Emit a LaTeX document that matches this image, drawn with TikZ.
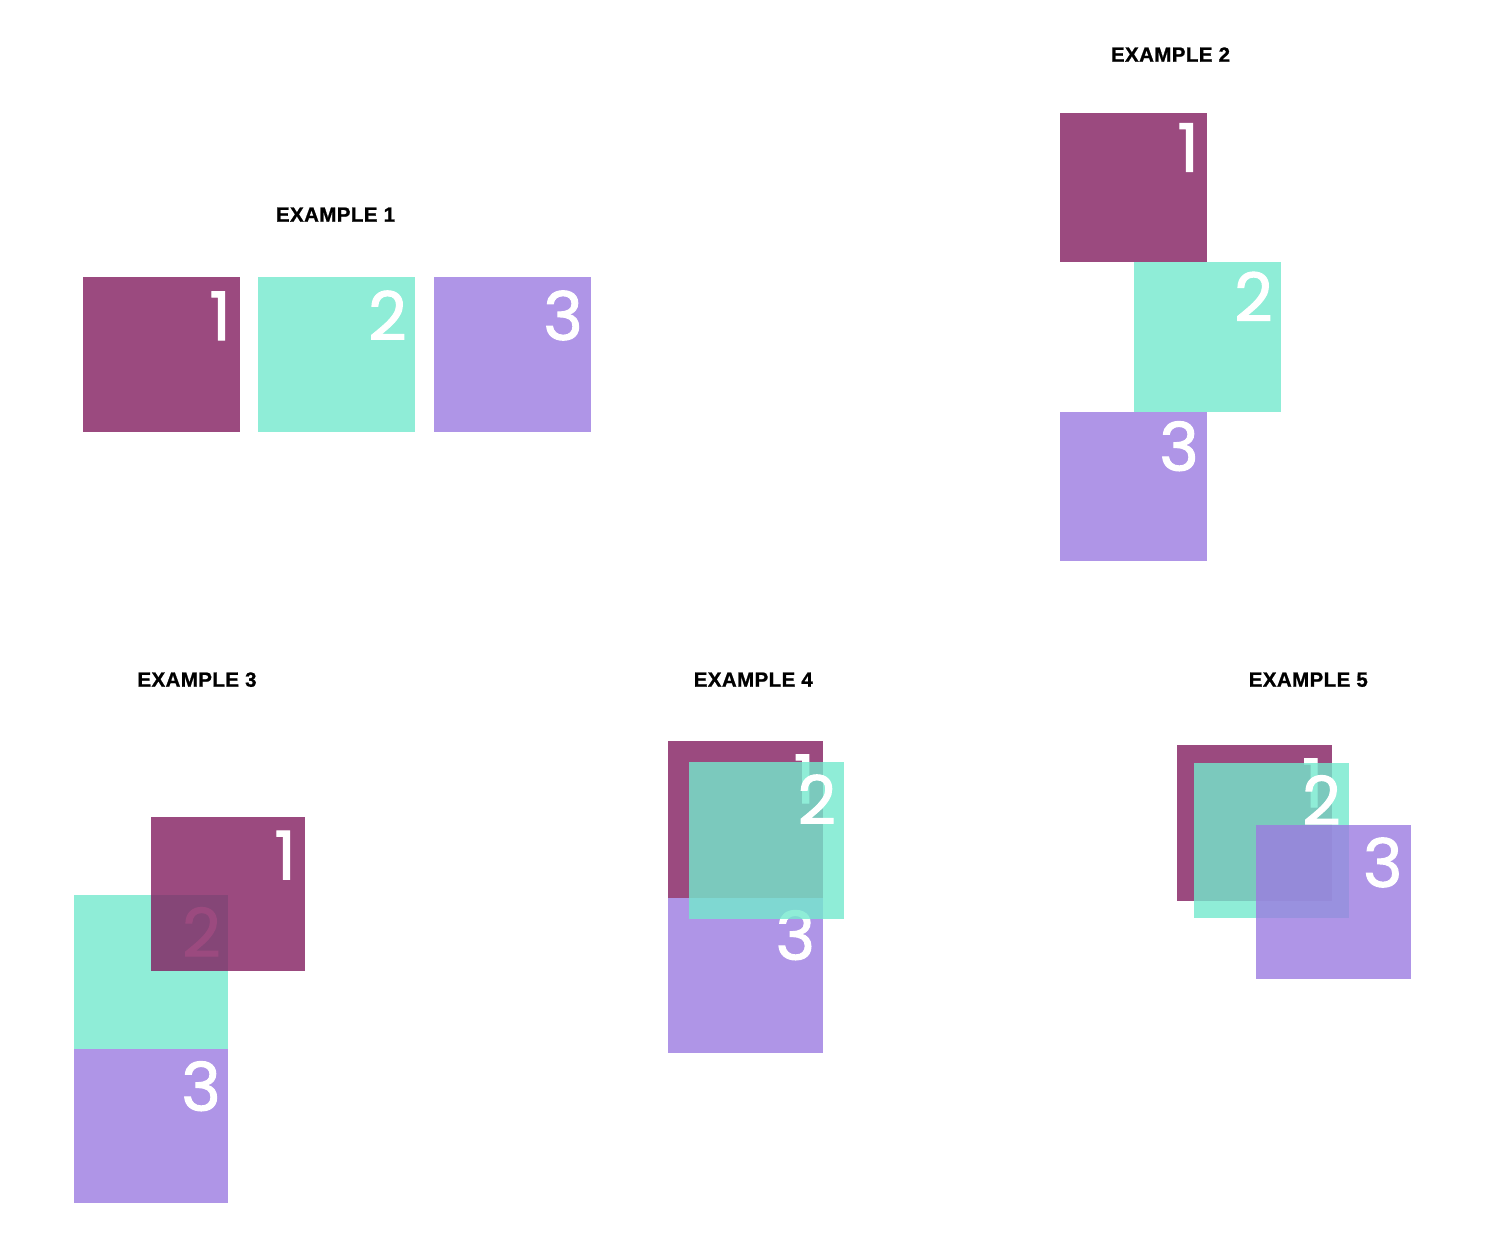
\documentclass[tikz,border=0pt]{standalone}
\usepackage{fontspec}
\usepackage{xcolor}
\newfontfamily\titlefont[LetterSpace=2, BoldFeatures={FakeBold=1}]{Liberation Sans}
\newfontfamily\digitfont[FakeBold=1.5]{Poppins}
\definecolor{plum}{RGB}{131,29,95}
\definecolor{mint}{RGB}{115,233,205}
\definecolor{lilac}{RGB}{156,123,225}

\begin{document}
\begin{tikzpicture}[x=1pt, y=-1pt,
    square/.style={anchor=north west, inner sep=0pt, outer sep=0pt,
        minimum width=155pt, minimum height=155pt, fill opacity=.8},
    sqone/.style={square, fill=plum},
    sqtwo/.style={square, fill=mint},
    sqthree/.style={square, fill=lilac},
    digit/.style={anchor=base east, inner sep=0pt, text=white,
        font=\digitfont\fontsize{67}{67}\selectfont},
    heading/.style={anchor=base, inner sep=0pt,
        font=\titlefont\bfseries\fontsize{20.5}{20.5}\selectfont}]

    \useasboundingbox[fill=white] (0,0) rectangle (1486,1260);

    %labels
    \node[heading] (title1) at (335.5,221.7) {EXAMPLE 1};
    \node[heading] (title2) at (1170.5,61.7) {EXAMPLE 2};
    \node[heading] (title3) at (197,686.7) {EXAMPLE 3};
    \node[heading] (title4) at (753.3,686.7) {EXAMPLE 4};
    \node[heading] (title5) at (1308.3,686.7) {EXAMPLE 5};

    % Example 1: side by side
    \node[sqone, minimum width=157pt] (boxA1) at (83,277) {};
    \node[digit] (numA1) at ([xshift=-9pt, yshift=-63pt]boxA1.north east) {1};
    \node[sqtwo, minimum width=157pt] (boxA2) at (258,277) {};
    \node[digit] (numA2) at ([xshift=-8pt, yshift=-63pt]boxA2.north east) {2};
    \node[sqthree, minimum width=157pt] (boxA3) at (434,277) {};
    \node[digit] (numA3) at ([xshift=-8pt, yshift=-63pt]boxA3.north east) {3};

    % Example 2: staircase
    \node[sqone, minimum width=147pt, minimum height=149.5pt] (boxB1) at (1060,112.7) {};
    \node[digit] (numB1) at ([xshift=-8pt, yshift=-59pt]boxB1.north east) {1};
    \node[sqtwo, minimum width=147pt, minimum height=149.5pt] (boxB2) at (1134,262.2) {};
    \node[digit] (numB2) at ([xshift=-8pt, yshift=-59pt]boxB2.north east) {2};
    \node[sqthree, minimum width=147pt, minimum height=149.5pt] (boxB3) at (1060,411.7) {};
    \node[digit] (numB3) at ([xshift=-8pt, yshift=-59pt]boxB3.north east) {3};

    % Example 3: one over two
    \node[sqtwo, minimum size=154pt] (boxC2) at (74,894.7) {};
    \node[digit] (numC2) at ([xshift=-7pt, yshift=-62pt]boxC2.north east) {2};
    \node[sqthree, minimum size=154pt] (boxC3) at (74,1048.7) {};
    \node[digit] (numC3) at ([xshift=-7pt, yshift=-62pt]boxC3.north east) {3};
    \node[sqone, minimum size=154pt] (boxC1) at (151,817.3) {};
    \node[digit] (numC1) at ([xshift=-9pt, yshift=-62pt]boxC1.north east) {1};

    % Example 4: two on top
    \node[sqone, minimum width=155.6pt, minimum height=156.7pt] (boxD1) at (667.7,741) {};
    \node[digit] (numD1) at ([xshift=-8pt, yshift=-62pt]boxD1.north east) {1};
    \node[sqthree, minimum width=155.6pt, minimum height=155.6pt] (boxD3) at (667.7,897.7) {};
    \node[digit] (numD3) at ([xshift=-8pt, yshift=-62pt]boxD3.north east) {3};
    \node[sqtwo, minimum width=155.3pt, minimum height=157pt] (boxD2) at (689,762) {};
    \node[digit] (numD2) at ([xshift=-8pt, yshift=-62pt]boxD2.north east) {2};

    % Example 5: stacked in order
    \node[sqone, minimum width=154.4pt, minimum height=155.7pt] (boxE1) at (1177.3,745) {};
    \node[digit] (numE1) at ([xshift=-8pt, yshift=-62pt]boxE1.north east) {1};
    \node[sqtwo, minimum width=154.7pt, minimum height=155pt] (boxE2) at (1194.3,762.7) {};
    \node[digit] (numE2) at ([xshift=-8pt, yshift=-62pt]boxE2.north east) {2};
    \node[sqthree, minimum width=154.7pt, minimum height=154.3pt] (boxE3) at (1256,825) {};
    \node[digit] (numE3) at ([xshift=-8pt, yshift=-62pt]boxE3.north east) {3};

\end{tikzpicture}
\end{document}
